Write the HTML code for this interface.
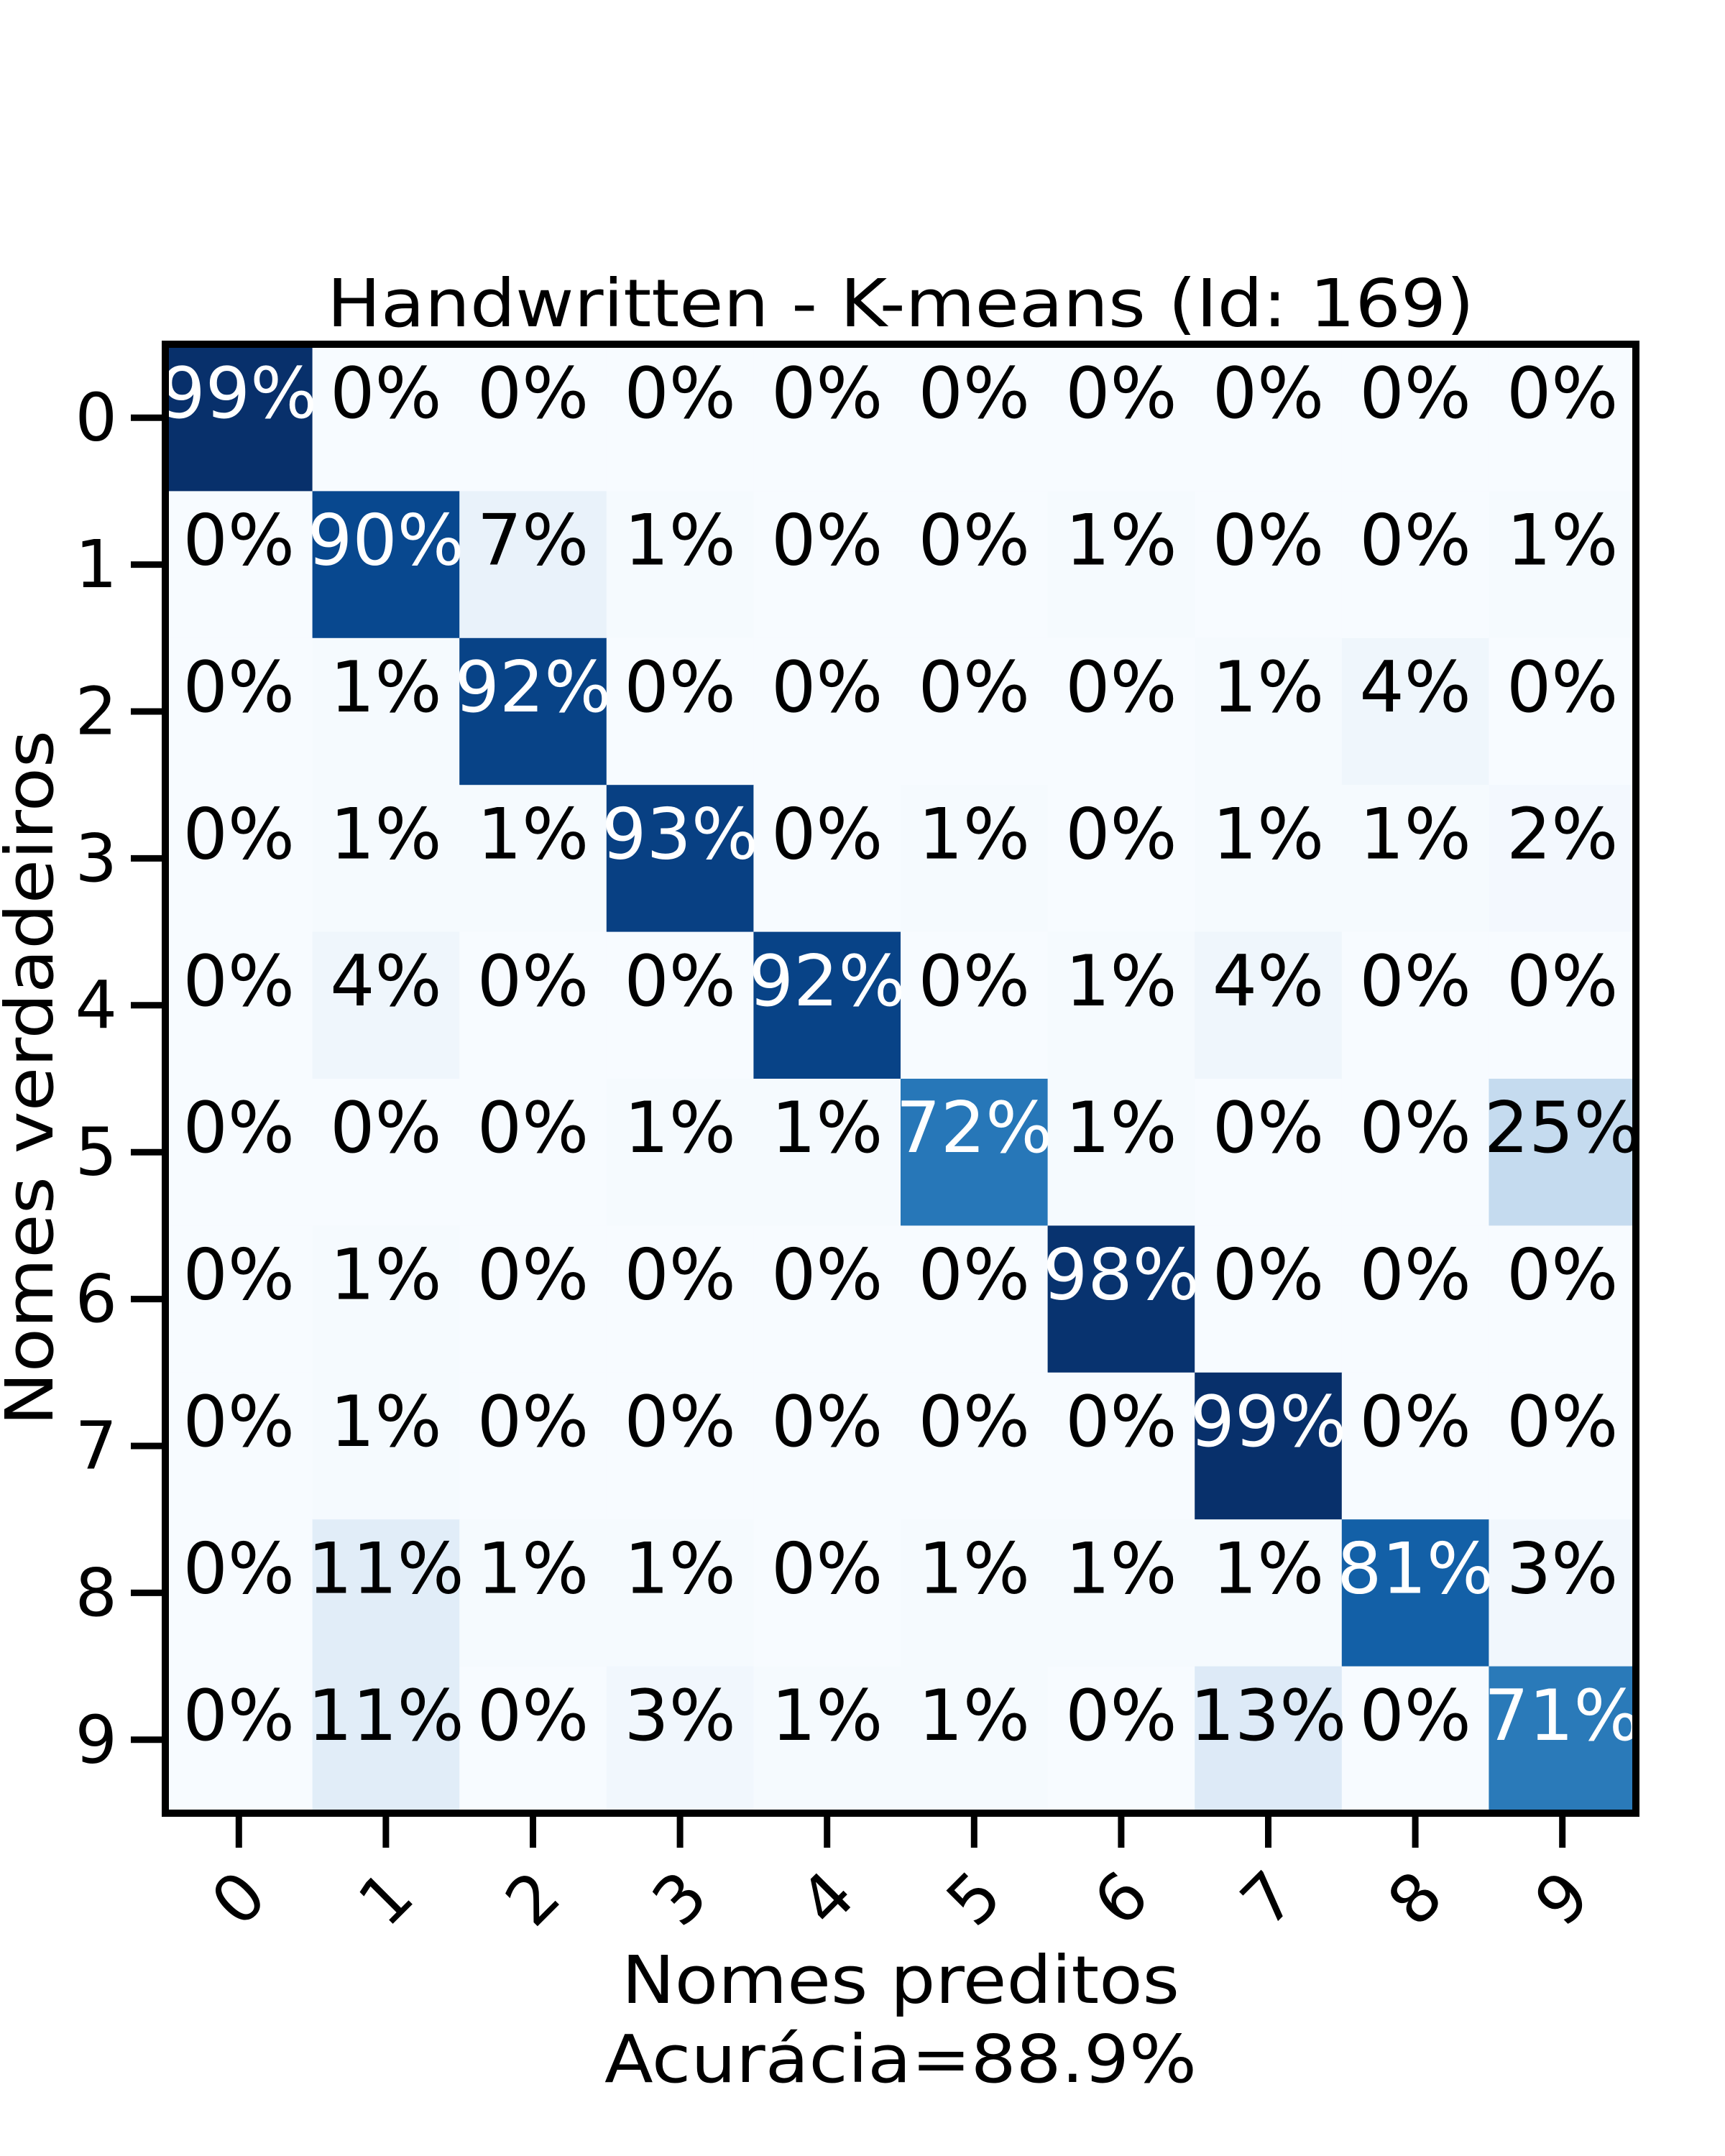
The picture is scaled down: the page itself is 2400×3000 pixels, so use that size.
<!DOCTYPE html>
<html><head><meta charset="utf-8"><style>html,body{margin:0;padding:0;background:#fff}svg{display:block}text{font-family:"DejaVu Sans","Liberation Sans",sans-serif}</style></head>
<body>
<svg id="chart" width="2400" height="3000" viewBox="0 0 2400 3000" xmlns="http://www.w3.org/2000/svg">
<rect width="2400" height="3000" fill="#fff"/>
<text x="1253" y="454" font-size="92" text-anchor="middle" textLength="1596" lengthAdjust="spacingAndGlyphs">Handwritten - K-means (Id: 169)</text>
<g id="cells"></g>
<g id="ticks"></g>
<rect x="230" y="479" width="2046" height="2044" fill="none" stroke="#000" stroke-width="10"/>
<text x="1253" y="2787" font-size="92" text-anchor="middle" textLength="776" lengthAdjust="spacingAndGlyphs">Nomes preditos</text>
<text x="1253" y="2897" font-size="92" text-anchor="middle" textLength="824" lengthAdjust="spacingAndGlyphs">Acurácia=88.9%</text>
<text transform="translate(73,1500) rotate(-90)" font-size="92" text-anchor="middle" textLength="968" lengthAdjust="spacingAndGlyphs">Nomes verdadeiros</text>
</svg>
<script>
const classLabels = ['0','1','2','3','4','5','6','7','8','9'];
const row0 = [99,0,0,0,0,0,0,0,0,0];
const row1 = [0,90,7,1,0,0,1,0,0,1];
const row2 = [0,1,92,0,0,0,0,1,4,0];
const row3 = [0,1,1,93,0,1,0,1,1,2];
const row4 = [0,4,0,0,92,0,1,4,0,0];
const row5 = [0,0,0,1,1,72,1,0,0,25];
const row6 = [0,1,0,0,0,0,98,0,0,0];
const row7 = [0,1,0,0,0,0,0,99,0,0];
const row8 = [0,11,1,1,0,1,1,1,81,3];
const row9 = [0,11,0,3,1,1,0,13,0,71];
const matrix = [row0,row1,row2,row3,row4,row5,row6,row7,row8,row9];

const NS = 'http://www.w3.org/2000/svg';
const X0 = 230, Y0 = 479, W = 2046, H = 2044;
const n = classLabels.length;
const cw = W / n, ch = H / n;
const xPos = i => X0 + i * cw;
const yPos = j => Y0 + j * ch;
let vmax = 0; matrix.forEach(r => r.forEach(v => { if (v > vmax) vmax = v; }));
const stops = [[247,251,255],[222,235,247],[198,219,239],[158,202,225],[107,174,214],[66,146,198],[33,113,181],[8,81,156],[8,48,107]];
function blues(t){t=Math.max(0,Math.min(1,t));const p=t*(stops.length-1);const i=Math.min(Math.floor(p),stops.length-2);const f=p-i;const c=stops[i].map((a,k)=>Math.round(a+(stops[i+1][k]-a)*f));return 'rgb('+c.join(',')+')';}
const cells = document.getElementById('cells');
matrix.forEach((row, r) => row.forEach((v, c) => {
  const rect = document.createElementNS(NS,'rect');
  
  
  rect.setAttribute('x', xPos(c)); rect.setAttribute('y', yPos(r));
  rect.setAttribute('width', cw + 0.5); rect.setAttribute('height', ch + 0.5);
  rect.setAttribute('fill', blues(v / vmax));
  cells.appendChild(rect);
}));
matrix.forEach((row, r) => row.forEach((v, c) => {
  const t = document.createElementNS(NS,'text');
  
  
  t.setAttribute('x', xPos(c) + cw/2); t.setAttribute('y', yPos(r) + ch/2);
  t.setAttribute('font-size', '98'); t.setAttribute('text-anchor', 'middle');
  t.setAttribute('fill', v > vmax/2 ? '#fff' : '#000');
  t.textContent = v + '%';
  cells.appendChild(t);
}));
const ticks = document.getElementById('ticks');
classLabels.forEach((lab, i) => {
  const yc = yPos(i) + ch/2;
  const l = document.createElementNS(NS,'line');
  
  
  l.setAttribute('x1', X0 - 48); l.setAttribute('x2', X0); l.setAttribute('y1', yc); l.setAttribute('y2', yc);
  l.setAttribute('stroke', '#000'); l.setAttribute('stroke-width', '9');
  ticks.appendChild(l);
  const t = document.createElementNS(NS,'text');
  
  
  t.setAttribute('x', 163); t.setAttribute('y', yc); t.setAttribute('font-size', '92');
  t.setAttribute('text-anchor', 'end'); t.setAttribute('dominant-baseline', 'central');
  t.textContent = lab; ticks.appendChild(t);
  const xc = xPos(i) + cw/2;
  const lx = document.createElementNS(NS,'line');
  
  
  lx.setAttribute('x1', xc); lx.setAttribute('x2', xc); lx.setAttribute('y1', Y0 + H); lx.setAttribute('y2', Y0 + H + 48);
  lx.setAttribute('stroke', '#000'); lx.setAttribute('stroke-width', '9');
  ticks.appendChild(lx);
  const tx = document.createElementNS(NS,'text');
  
  
  tx.setAttribute('transform', 'translate(' + xc + ',2642) rotate(-45)');
  tx.setAttribute('font-size', '92'); tx.setAttribute('text-anchor', 'middle'); tx.setAttribute('dominant-baseline', 'central');
  tx.textContent = lab; ticks.appendChild(tx);
});
</script>
</body></html>
